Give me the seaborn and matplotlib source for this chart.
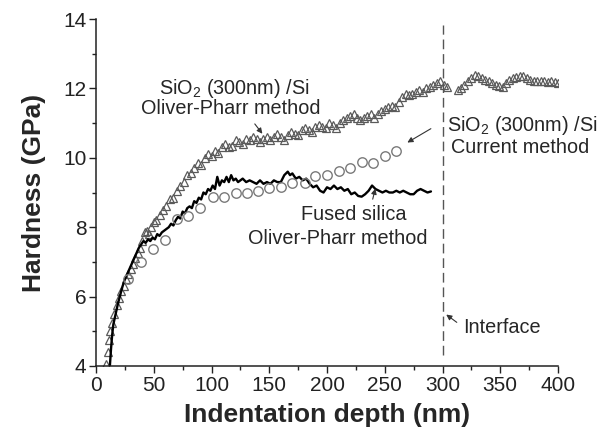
import matplotlib
matplotlib.use("Agg")
import matplotlib.pyplot as plt
from matplotlib.ticker import MultipleLocator
import seaborn as sns
import pandas as pd

# SiO2 (300nm)/Si, Oliver-Pharr method (open triangles)
tri_depth = [9, 10, 11, 12, 14, 16, 18, 20, 22, 24, 26, 28, 30, 32, 34, 36, 38, 40, 42, 44,
             46, 48, 50, 52, 55, 58, 61, 64, 67, 70, 73, 76, 79, 82, 85, 88, 91, 94, 97, 100,
             103, 106, 109, 112, 115, 118, 121, 124, 127, 130, 133, 136, 139, 142, 145, 148,
             151, 154, 157, 160, 163, 166, 169, 172, 175, 178, 181, 184, 187, 190, 193, 196,
             199, 202, 205, 208, 211, 214, 217, 220, 223, 226, 229, 232, 235, 238, 241, 244,
             247, 250, 253, 256, 259, 262, 265, 268, 271, 274, 277, 280, 283, 286, 289, 292,
             295, 298, 301, 304,
             313, 316, 319, 322, 325, 328, 331, 334, 337, 340, 343, 346, 349, 352, 355, 358,
             361, 364, 367, 370, 373, 376, 379, 382, 385, 388, 391, 394, 397, 400]
tri_hard = [4.05, 4.4, 4.75, 5.0, 5.25, 5.5, 5.75, 5.95, 6.15, 6.3, 6.5, 6.65, 6.8, 6.95, 7.1,
            7.25, 7.4, 7.6, 7.85, 7.9, 7.8, 8.0, 8.15, 8.2, 8.35, 8.5, 8.6, 8.8, 8.85, 9.05,
            9.2, 9.3, 9.5, 9.55, 9.7, 9.85, 9.8, 10.0, 10.1, 10.05, 10.2, 10.15, 10.3, 10.4,
            10.3, 10.35, 10.5, 10.45, 10.4, 10.55, 10.5, 10.6, 10.55, 10.45, 10.55, 10.6, 10.5,
            10.6, 10.7, 10.6, 10.5, 10.65, 10.75, 10.7, 10.65, 10.8, 10.85, 10.8, 10.75, 10.9,
            10.95, 10.9, 10.85, 11.0, 10.95, 10.85, 11.0, 11.1, 11.15, 11.2, 11.25, 11.15, 11.1,
            11.15, 11.2, 11.25, 11.15, 11.25, 11.35, 11.4, 11.45, 11.5, 11.45, 11.6, 11.75,
            11.85, 11.8, 11.85, 11.9, 11.95, 11.9, 12.0, 12.05, 12.1, 12.15, 12.2, 12.1, 12.05,
            11.95, 12.0, 12.1, 12.2, 12.3, 12.4, 12.35, 12.3, 12.25, 12.2, 12.15, 12.1, 12.08,
            12.05, 12.15, 12.25, 12.3, 12.33, 12.36, 12.35, 12.3, 12.25, 12.2, 12.22, 12.2,
            12.2, 12.18, 12.2, 12.18, 12.17]

# Fused silica, Oliver-Pharr method (solid line)
fs_depth = [12, 13, 14, 15, 17, 19, 21, 23, 25, 27, 29, 31, 33, 35, 37, 39, 41, 43, 45, 47,
            49, 51, 53, 55, 57, 59, 61, 63, 65, 67, 69, 71, 73, 75, 77, 79, 81, 83, 85, 87,
            89, 91, 93, 95, 97, 99, 101, 103, 105, 107, 109, 111, 113, 115, 117, 119, 121, 123,
            125, 127, 130, 133, 136, 139, 142, 145, 148, 151, 154, 157, 160, 163, 166, 168,
            170, 173, 176, 179, 182, 185, 188, 191, 194, 197, 200, 203, 206, 209, 212, 215,
            218, 221, 224, 227, 230, 233, 236, 239, 242, 245, 248, 251, 254, 257, 260, 263,
            266, 269, 272, 275, 278, 281, 284, 287, 290]
fs_hard = [4.0, 4.5, 4.9, 5.2, 5.5, 5.8, 6.05, 6.3, 6.5, 6.65, 6.8, 6.95, 7.1, 7.25, 7.4, 7.5,
           7.6, 7.55, 7.65, 7.6, 7.7, 7.65, 7.8, 7.75, 7.85, 7.9, 7.95, 8.0, 8.1, 8.05, 8.2,
           8.3, 8.25, 8.45, 8.4, 8.55, 8.6, 8.55, 8.75, 8.7, 8.85, 8.8, 9.0, 8.95, 9.1, 9.05,
           9.2, 9.1, 9.45, 9.2, 9.35, 9.3, 9.45, 9.3, 9.5, 9.35, 9.4, 9.3, 9.35, 9.4, 9.3,
           9.35, 9.3, 9.25, 9.35, 9.25, 9.3, 9.25, 9.35, 9.3, 9.3, 9.5, 9.6, 9.5, 9.55, 9.4,
           9.45, 9.35, 9.4, 9.25, 9.15, 9.2, 9.05, 9.0, 9.15, 9.1, 9.2, 9.1, 9.15, 9.05, 9.1,
           8.95, 9.0, 8.9, 8.88, 8.95, 9.05, 9.2, 9.1, 9.05, 9.0, 9.05, 9.0, 9.0, 9.05, 9.0,
           9.05, 9.0, 8.95, 8.95, 9.05, 9.1, 9.05, 9.0, 9.03]

# SiO2 (300nm)/Si, current method (open circles)
cur_depth = [28, 39, 49, 60, 70, 80, 90, 101, 111, 121, 131, 140, 150, 160, 170, 181, 190,
             200, 210, 220, 230, 240, 250, 260]
cur_hard = [6.5, 7.0, 7.38, 7.63, 8.23, 8.32, 8.56, 8.88, 8.88, 9.0, 9.0, 9.04, 9.12, 9.15,
            9.26, 9.26, 9.48, 9.51, 9.61, 9.7, 9.87, 9.84, 10.05, 10.2]

interface_depth = 300

sns.set_style("ticks")
plt.rcParams['font.family'] = ['Liberation Sans', 'DejaVu Sans']
plt.rcParams['mathtext.fontset'] = 'custom'
plt.rcParams['mathtext.rm'] = 'Liberation Sans'
plt.rcParams['mathtext.default'] = 'regular'

tri = pd.DataFrame({'depth': tri_depth, 'hardness': tri_hard})
fs = pd.DataFrame({'depth': fs_depth, 'hardness': fs_hard})
cur = pd.DataFrame({'depth': cur_depth, 'hardness': cur_hard})

fig = plt.figure(figsize=(6.02, 4.34), dpi=100)
ax = fig.add_axes([0.1595, 0.1567, 0.7674, 0.7995])

sns.lineplot(data=tri, x='depth', y='hardness', ax=ax, linestyle='none', marker='^',
             markersize=5.5, markerfacecolor='none', markeredgecolor='#5a5a5a',
             markeredgewidth=0.9, sort=False, estimator=None)
sns.lineplot(data=fs, x='depth', y='hardness', ax=ax, color='black', linewidth=1.7,
             sort=False, estimator=None)
sns.lineplot(data=cur, x='depth', y='hardness', ax=ax, linestyle='none', marker='o',
             markersize=6.8, markerfacecolor='none', markeredgecolor='#7a7a7a',
             markeredgewidth=1.0, sort=False, estimator=None)

ax.plot([interface_depth, interface_depth], [4.32, 13.83], color='#555555', lw=1.0,
        dashes=(7, 3.5))

ax.set_xlim(0, 400)
ax.set_ylim(4, 14)
ax.xaxis.set_major_locator(MultipleLocator(50))
ax.xaxis.set_minor_locator(MultipleLocator(25))
ax.yaxis.set_major_locator(MultipleLocator(2))
ax.yaxis.set_minor_locator(MultipleLocator(1))
ax.tick_params(which='major', direction='out', length=5, width=1, labelsize=15,
               colors='#222222', pad=2)
ax.tick_params(which='minor', direction='out', length=3, width=1, colors='#222222')
sns.despine(ax=ax)
for s in ['left', 'bottom']:
    ax.spines[s].set_linewidth(1.1)
    ax.spines[s].set_color('#222222')

ax.set_xlabel('Indentation depth (nm)', fontsize=19, fontweight='bold', labelpad=6)
ax.set_ylabel('Hardness (GPa)', fontsize=19, fontweight='bold', labelpad=12)

fs_txt = 14.3
ax.text(120, 12.01, 'SiO$_2$ (300nm) /Si', fontsize=fs_txt, ha='center', va='center')
ax.text(117, 11.41, 'Oliver-Pharr method', fontsize=fs_txt, ha='center', va='center')
ax.annotate('', xy=(145.5, 10.63), xytext=(136, 11.04),
            arrowprops=dict(arrowstyle='-|>', color='#333333', lw=0.8, mutation_scale=8))

ax.text(303.6, 10.92, 'SiO$_2$ (300nm) /Si', fontsize=fs_txt, ha='left', va='center')
ax.text(307.4, 10.3, 'Current method', fontsize=fs_txt, ha='left', va='center')
ax.annotate('', xy=(267.5, 10.4), xytext=(292, 10.88),
            arrowprops=dict(arrowstyle='-|>', color='#333333', lw=0.8, mutation_scale=8))

ax.text(223, 8.38, 'Fused silica', fontsize=fs_txt, ha='center', va='center')
ax.text(209.5, 7.66, 'Oliver-Pharr method', fontsize=fs_txt, ha='center', va='center')
ax.annotate('', xy=(242.4, 9.19), xytext=(239, 8.73),
            arrowprops=dict(arrowstyle='-|>', color='#333333', lw=0.8, mutation_scale=8))

ax.text(317.5, 5.1, 'Interface', fontsize=fs_txt, ha='left', va='center')
ax.annotate('', xy=(301.3, 5.53), xytext=(314.3, 5.21),
            arrowprops=dict(arrowstyle='-|>', color='#333333', lw=0.8, mutation_scale=8))

fig.savefig('out.png', dpi=100)
